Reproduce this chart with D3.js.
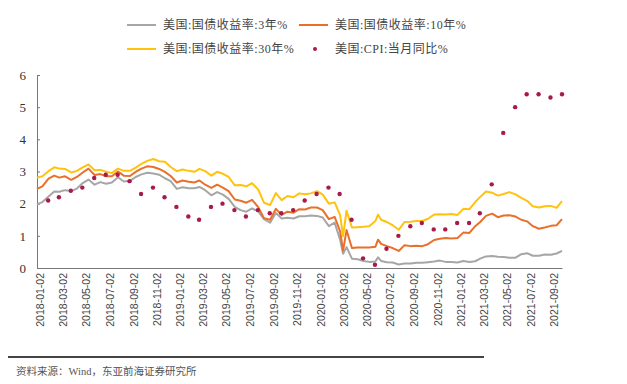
<!DOCTYPE html>
<html>
<head>
<meta charset="utf-8">
<script src="https://cdn.jsdelivr.net/npm/d3@7"></script>
<style>
body { margin: 0; background: #fff; }
</style>
</head>
<body>
<div id="chart"></div>
<script>
// semi-monthly sampling of the daily yields, plus a few dates around the March 2020 swing
var dates = [
"2018-01-02","2018-01-16","2018-02-01","2018-02-16","2018-03-01","2018-03-16","2018-04-01","2018-04-16","2018-05-01","2018-05-16","2018-06-01","2018-06-16",
"2018-07-01","2018-07-16","2018-08-01","2018-08-16","2018-09-01","2018-09-16","2018-10-01","2018-10-16","2018-11-01","2018-11-16","2018-12-01","2018-12-16",
"2019-01-01","2019-01-16","2019-02-01","2019-02-16","2019-03-01","2019-03-16","2019-04-01","2019-04-16","2019-05-01","2019-05-16","2019-06-01","2019-06-16",
"2019-07-01","2019-07-16","2019-08-01","2019-08-16","2019-09-01","2019-09-16","2019-10-01","2019-10-16","2019-11-01","2019-11-16","2019-12-01","2019-12-16",
"2020-01-01","2020-01-16","2020-02-01","2020-02-16","2020-03-01","2020-03-09","2020-03-18","2020-04-01","2020-04-16","2020-05-01","2020-05-16","2020-06-01","2020-06-08","2020-06-16",
"2020-07-01","2020-07-16","2020-08-01","2020-08-16","2020-09-01","2020-09-16","2020-10-01","2020-10-16","2020-11-01","2020-11-16","2020-12-01","2020-12-16",
"2021-01-01","2021-01-16","2021-02-01","2021-02-16","2021-03-01","2021-03-16","2021-04-01","2021-04-16","2021-05-01","2021-05-16","2021-06-01","2021-06-16",
"2021-07-01","2021-07-16","2021-08-01","2021-08-16","2021-09-01","2021-09-16","2021-09-30"
];

var y3 = [
1.98,2.05,2.22,2.38,2.37,2.42,2.39,2.47,2.64,2.75,2.59,2.67,
2.62,2.66,2.82,2.69,2.71,2.83,2.91,2.96,2.94,2.90,2.79,2.70,
2.46,2.51,2.48,2.48,2.52,2.42,2.26,2.36,2.28,2.15,1.90,1.80,
1.75,1.85,1.76,1.52,1.41,1.71,1.54,1.56,1.54,1.61,1.61,1.63,
1.62,1.57,1.30,1.41,0.89,0.44,0.65,0.29,0.27,0.22,0.19,0.20,0.33,0.22,
0.18,0.17,0.11,0.14,0.14,0.16,0.16,0.18,0.20,0.23,0.19,0.19,
0.17,0.22,0.19,0.21,0.29,0.36,0.37,0.35,0.34,0.32,0.32,0.43,
0.46,0.38,0.38,0.42,0.41,0.45,0.53
];

var y10 = [
2.46,2.54,2.78,2.87,2.81,2.85,2.74,2.83,2.97,3.09,2.89,2.92,
2.85,2.85,3.00,2.87,2.86,2.99,3.09,3.16,3.14,3.08,2.99,2.86,
2.66,2.72,2.68,2.66,2.72,2.59,2.49,2.59,2.50,2.39,2.13,2.09,
2.03,2.12,1.89,1.55,1.50,1.84,1.65,1.75,1.72,1.83,1.82,1.88,
1.88,1.80,1.52,1.59,1.15,0.54,1.18,0.62,0.64,0.64,0.64,0.66,0.88,0.75,
0.68,0.62,0.53,0.71,0.68,0.69,0.68,0.74,0.87,0.91,0.93,0.92,
0.93,1.10,1.09,1.30,1.43,1.62,1.69,1.58,1.63,1.64,1.60,1.50,
1.45,1.30,1.22,1.26,1.31,1.33,1.52
];

var y30 = [
2.81,2.85,3.01,3.13,3.09,3.08,2.97,3.02,3.13,3.22,3.04,3.05,
2.99,2.95,3.09,3.02,3.02,3.12,3.24,3.33,3.39,3.32,3.30,3.14,
3.01,3.06,3.02,2.99,3.08,3.01,2.87,2.99,2.93,2.83,2.57,2.58,
2.54,2.64,2.44,2.03,1.96,2.33,2.11,2.24,2.20,2.32,2.29,2.32,
2.39,2.28,2.00,2.04,1.65,0.99,1.78,1.26,1.27,1.28,1.30,1.46,1.66,1.50,
1.43,1.33,1.19,1.43,1.44,1.46,1.46,1.53,1.66,1.67,1.66,1.68,
1.65,1.84,1.83,2.05,2.21,2.38,2.34,2.25,2.30,2.36,2.29,2.18,
2.09,1.92,1.88,1.92,1.93,1.87,2.08
];

// CPI y/y, monthly, plotted at month end
var cpiMonths = [
"2018-01","2018-02","2018-03","2018-04","2018-05","2018-06","2018-07","2018-08","2018-09","2018-10","2018-11","2018-12",
"2019-01","2019-02","2019-03","2019-04","2019-05","2019-06","2019-07","2019-08","2019-09","2019-10","2019-11","2019-12",
"2020-01","2020-02","2020-03","2020-04","2020-05","2020-06","2020-07","2020-08","2020-09","2020-10","2020-11","2020-12",
"2021-01","2021-02","2021-03","2021-04","2021-05","2021-06","2021-07","2021-08","2021-09"
];
var cpi = [
2.1,2.2,2.4,2.5,2.8,2.9,2.9,2.7,2.3,2.5,2.2,1.9,
1.6,1.5,1.9,2.0,1.8,1.6,1.8,1.7,1.7,1.8,2.1,2.3,
2.5,2.3,1.5,0.3,0.1,0.6,1.0,1.3,1.4,1.2,1.2,1.4,
1.4,1.7,2.6,4.2,5.0,5.4,5.4,5.3,5.4
];

var tickDates = ["2018-01-02","2018-03-02","2018-05-02","2018-07-02","2018-09-02","2018-11-02",
"2019-01-02","2019-03-02","2019-05-02","2019-07-02","2019-09-02","2019-11-02",
"2020-01-02","2020-03-02","2020-05-02","2020-07-02","2020-09-02","2020-11-02",
"2021-01-02","2021-03-02","2021-05-02","2021-07-02","2021-09-02"];
var yTicks = [0,1,2,3,4,5,6];

var legendNames = ["美国:国债收益率:3年%","美国:国债收益率:10年%","美国:国债收益率:30年%","美国:CPI:当月同比%"];
var colors = ["#a6a6a6","#e8702a","#ffc20e","#a8194c"];

var W = 627, H = 384;
var parse = d3.timeParse("%Y-%m-%d");
var parseM = d3.timeParse("%Y-%m");

var svg = d3.select("#chart").append("svg")
.attr("width", W).attr("height", H);

var x = d3.scaleTime()
.domain([parse("2018-01-02"), parse("2021-09-30")])
.range([37, 562]);
var y = d3.scaleLinear().domain([0, 6]).range([268, 75]);

var serif = "'Liberation Serif','Noto Sans CJK SC',serif";

// y axis
var ya = svg.append("g").attr("transform", "translate(37,0)")
.call(d3.axisRight(y).tickValues(yTicks).tickSize(3).tickFormat(d3.format("d")));
ya.select(".domain").attr("stroke", "#777");
ya.selectAll(".tick line").attr("stroke", "#777");
ya.selectAll(".tick text").attr("x", -11).attr("text-anchor", "end")
.attr("fill", "#333").style("font-family", serif).style("font-size", "13px");

// x axis
var xa = svg.append("g").attr("transform", "translate(0,268)")
.call(d3.axisBottom(x).tickValues(tickDates.map(parse)).tickSize(0).tickFormat(d3.timeFormat("%Y-%m-%d")));
xa.select(".domain").attr("stroke", "#777");
xa.selectAll(".tick text")
.attr("transform", "rotate(-90)")
.attr("text-anchor", "end")
.attr("x", -5).attr("y", 3).attr("dy", ".35em")
.attr("fill", "#444")
.style("font-family", "'Liberation Sans',Arial,sans-serif").style("font-size", "10.5px");

var series = [y3, y10, y30];
var line = d3.line()
.x(function (d, i) { return x(parse(dates[i])); })
.y(function (d) { return y(d); });

// draw 3y first, then 10y, then 30y
series.forEach(function (s, k) {
svg.append("path")
.datum(s)
.attr("d", line)
.attr("fill", "none")
.attr("stroke", colors[k])
.attr("stroke-width", 2)
.attr("stroke-linejoin", "round");
});

svg.append("g").selectAll("circle")
.data(cpi)
.enter()
.append("circle")
.attr("cx", function (d, i) { return x(d3.timeDay.offset(d3.timeMonth.offset(parseM(cpiMonths[i]), 1), -1)); })
.attr("cy", function (d) { return y(d); })
.attr("r", 2.2)
.attr("fill", colors[3]);

// legend
var leg = [
{x: 127, y: 25}, {x: 299, y: 25}, {x: 127, y: 49}, {x: 299, y: 49}
];
leg.forEach(function (p, i) {
var g = svg.append("g").attr("transform", "translate(" + p.x + "," + p.y + ")");
if (i < 3) {
g.append("line").attr("x1", 0).attr("x2", 29).attr("y1", 0).attr("y2", 0)
.attr("stroke", colors[i]).attr("stroke-width", 2);
} else {
g.append("circle").attr("cx", 16).attr("cy", 0).attr("r", 2).attr("fill", colors[3]);
}
g.append("text").attr("x", 36).attr("y", 4)
.attr("fill", "#444")
.style("font-family", serif).style("font-size", "12px").style("letter-spacing", "0.5px")
.text(legendNames[i]);
});

// source footer
svg.append("line").attr("x1", 8).attr("x2", 484).attr("y1", 357).attr("y2", 357)
.attr("stroke", "#444").attr("stroke-width", 2);
svg.append("text").attr("x", 16).attr("y", 375)
.attr("fill", "#555")
.style("font-family", serif).style("font-size", "10.5px")
.text("资料来源：Wind，东亚前海证券研究所");
</script>
</body>
</html>
